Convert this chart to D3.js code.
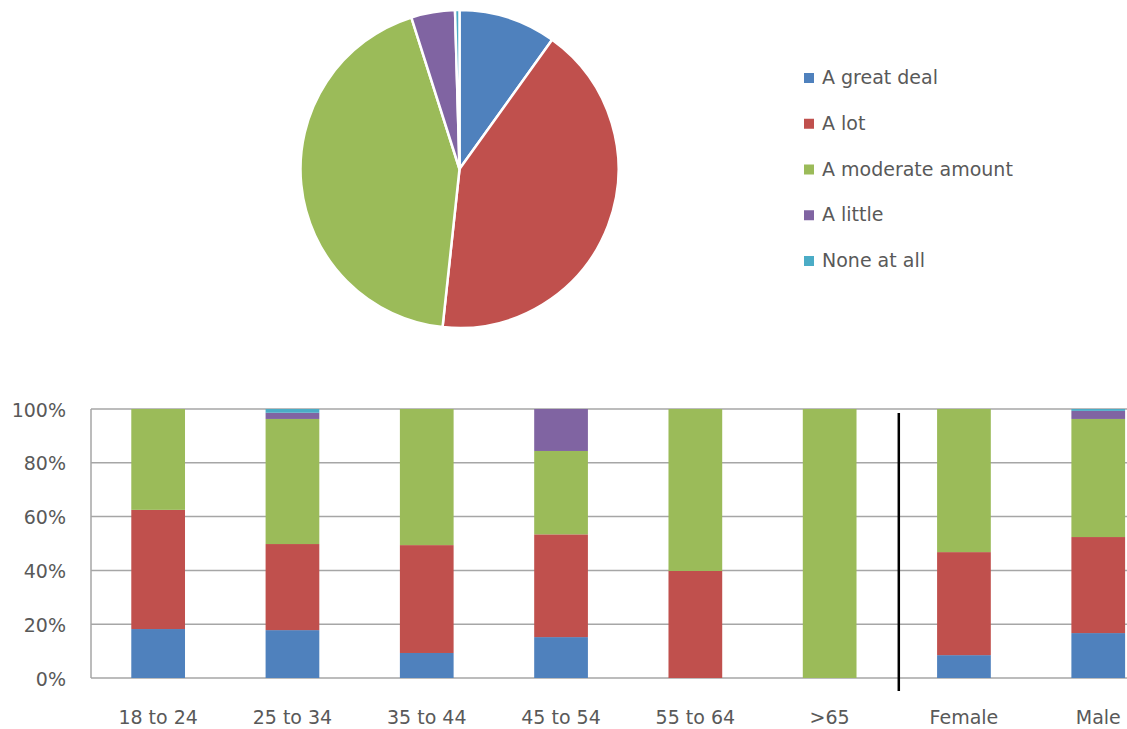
<!DOCTYPE html>
<html><head><meta charset="utf-8">
<script src="https://cdn.jsdelivr.net/npm/d3@7"></script>
<style>
html,body{margin:0;padding:0;background:#fff;overflow:hidden}
text{font-family:"DejaVu Sans",sans-serif;fill:#595959}
</style></head>
<body>
<svg id="c" width="1127" height="729"></svg>
<script>
const seriesNames = ["A great deal","A lot","A moderate amount","A little","None at all"];
const colors = ["#4F81BD","#C0504D","#9BBB59","#8064A2","#4BACC6"];
const pieValues = [9.9, 41.8, 43.4, 4.45, 0.45];
const categories = ["18 to 24","25 to 34","35 to 44","45 to 54","55 to 64",">65","Female","Male"];
const greatDeal = [18.2, 17.8, 9.3, 15.2, 0, 0, 8.5, 16.7];
const aLot      = [44.3, 32.0, 40.1, 38.2, 39.8, 0, 38.3, 35.7];
const moderate  = [37.5, 46.5, 50.6, 31.0, 60.2, 100, 53.2, 43.9];
const aLittle   = [0, 2.3, 0, 15.6, 0, 0, 0, 3.0];
const noneAtAll = [0, 1.4, 0, 0, 0, 0, 0, 0.7];
const yTicks = [0, 20, 40, 60, 80, 100];
const separatorAfter = ">65";

const svg = d3.select("#c");

// Pie
const pie = d3.pie().sort(null).value(d => d)(pieValues);
const arc = d3.arc().innerRadius(0).outerRadius(159);
svg.append("g").attr("transform","translate(459.5,169)")
  .selectAll("path").data(pie).join("path")
  .attr("d", arc).attr("fill",(d,i)=>colors[i])
  .attr("stroke","#fff").attr("stroke-width",2.5).attr("stroke-linejoin","round");

// Legend
const lg = svg.append("g").attr("transform","translate(804,0)");
const ly = d3.scaleLinear().domain([0,4]).range([84,267]);
seriesNames.forEach((s,i)=>{
  lg.append("rect").attr("x",0).attr("y",ly(i)-11).attr("width",10).attr("height",10).attr("fill",colors[i]);
  lg.append("text").attr("x",18).attr("y",ly(i)).attr("font-size",19).text(s);
});

// Bar chart
const pLeft = 91, pTop = 409, pBottom = 678;
const step = 134.3;
const x = d3.scaleBand().domain(categories).range([pLeft, pLeft + step*categories.length]).paddingInner(0.6).paddingOuter(0.3);
const y = d3.scaleLinear().domain([0,100]).range([pBottom, pTop]);

const g = svg.append("g");
g.selectAll("line.grid").data(yTicks).join("line").attr("class","grid")
  .attr("x1",pLeft).attr("x2",1200).attr("y1",d=>y(d)).attr("y2",d=>y(d))
  .attr("stroke","#A6A6A6").attr("stroke-width",1.5);
g.append("line").attr("x1",pLeft).attr("x2",pLeft).attr("y1",pTop).attr("y2",pBottom)
  .attr("stroke","#A6A6A6").attr("stroke-width",1.5);

const tbl = categories.map((c,i)=>{
  const vals=[greatDeal[i],aLot[i],moderate[i],aLittle[i],noneAtAll[i]];
  const o={cat:c}; seriesNames.forEach((s,k)=>o[s]=vals[k]); return o;});
const stacked = d3.stack().keys(seriesNames)(tbl);
stacked.forEach((layer,k)=>{
  g.selectAll(null).data(layer).join("rect")
    .attr("x",d=>x(d.data.cat)).attr("width",x.bandwidth())
    .attr("y",d=>y(d[1])).attr("height",d=>Math.max(0,y(d[0])-y(d[1])))
    .attr("fill",colors[k]);
});

// y labels
g.selectAll("text.yl").data(yTicks).join("text").attr("class","yl")
  .attr("x",66).attr("y",d=>y(d)+7.5).attr("text-anchor","end").attr("font-size",19)
  .text(d=>d+"%");
// x labels
g.selectAll("text.xl").data(categories).join("text").attr("class","xl")
  .attr("x",d=>x(d)+x.bandwidth()/2).attr("y",724).attr("text-anchor","middle").attr("font-size",19)
  .text(d=>d);

// separator
const sx = x(separatorAfter) + x.bandwidth() + (step - x.bandwidth())/2 + 2;
g.append("line").attr("x1",sx).attr("x2",sx).attr("y1",413).attr("y2",691)
  .attr("stroke","#000").attr("stroke-width",2.5);
</script>
</body></html>
